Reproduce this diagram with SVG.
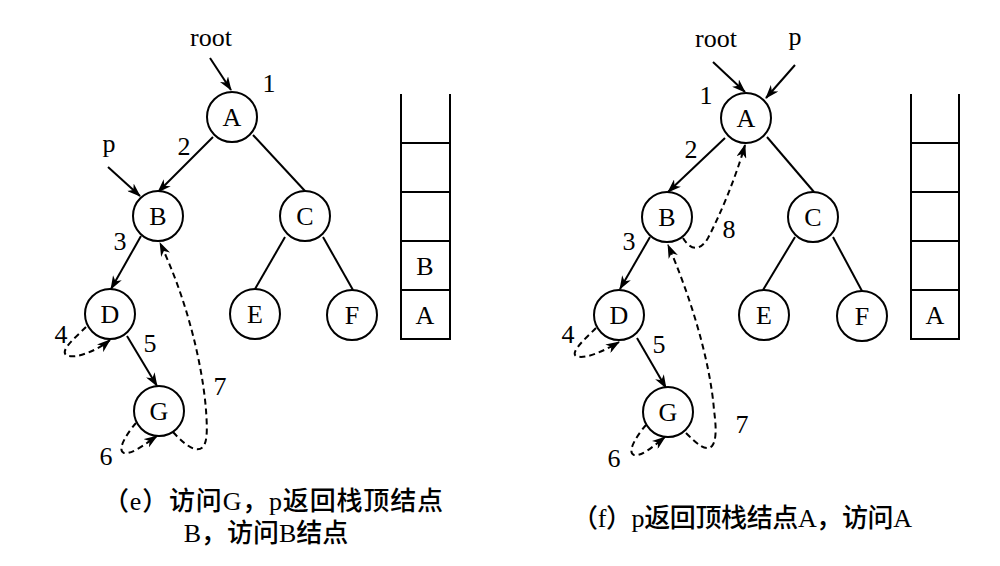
<svg xmlns="http://www.w3.org/2000/svg" width="1000" height="566" viewBox="0 0 1000 566">
<style>
.n{fill:#fff;stroke:#000;stroke-width:2}
.t{font-family:"Liberation Serif","DejaVu Serif","Noto Serif",serif;font-size:26px;fill:#000;text-anchor:middle}
.cap{font-family:"Liberation Serif","Noto Sans CJK SC",serif;font-size:26px;font-weight:500;fill:#000;text-anchor:middle}
.e{fill:none;stroke:#000;stroke-width:2}
.a{fill:none;stroke:#000;stroke-width:2;marker-end:url(#ah)}
.d{fill:none;stroke:#000;stroke-width:2;stroke-dasharray:6,4;marker-end:url(#ah)}
.s{fill:none;stroke:#000;stroke-width:2}
</style>
<defs>
<marker id="ah" viewBox="0 0 14 10" refX="13" refY="5" markerWidth="14" markerHeight="10" markerUnits="userSpaceOnUse" orient="auto">
<path d="M0,0 L14,5 L0,10 L4,5 z" fill="#000"/>
</marker>
</defs>
<rect width="1000" height="566" fill="#fff"/>

<g id="connectors">
<path class="a" d="M210 58 L231 90"/>
<path class="a" d="M108 167 L140 196"/>
<path class="a" d="M213 137 L158 192"/>
<path class="e" d="M253 135 L305 191"/>
<path class="a" d="M141 236 L111 289"/>
<path class="e" d="M285 237 L255 289"/>
<path class="e" d="M323 237 L353 290"/>
<path class="a" d="M127 336 L157 386"/>
<path class="d" d="M86 327 C76 337 60 350 66 355 C75 360 98 350 110 340"/>
<path class="d" d="M136 423 C128 432 116 450 124 453 C132 455 148 442 157 436"/>
<path class="d" d="M173 432 C184 444 196 454 203 447 C208 441 207 425 206 410 C202 360 185 295 160 243"/>
<path class="a" d="M713 62 L745 92"/>
<path class="a" d="M795 65 L766 98"/>
<path class="a" d="M725 138 L668 192"/>
<path class="e" d="M767 137 L814 192"/>
<path class="a" d="M650 237 L620 289"/>
<path class="e" d="M795 237 L763 290"/>
<path class="e" d="M833 237 L862 291"/>
<path class="a" d="M637 338 L666 388"/>
<path class="d" d="M683 238 C690 250 700 252 708 238 C720 215 735 180 745 145"/>
<path class="d" d="M596 328 C586 338 570 352 576 356 C585 360 606 350 619 342"/>
<path class="d" d="M646 425 C638 434 626 452 634 455 C642 457 656 444 665 437"/>
<path class="d" d="M686 433 C697 444 706 452 712 446 C717 440 716 425 714 410 C710 360 690 295 668 245"/>
</g>

<g id="left-labels">
<text class="t" x="211" y="46">root</text>
<text class="t" x="109" y="152">p</text>
<text class="t" x="269" y="92">1</text>
<text class="t" x="184" y="155">2</text>
<text class="t" x="120" y="250">3</text>
<text class="t" x="61" y="343">4</text>
<text class="t" x="150" y="352">5</text>
<text class="t" x="106" y="465">6</text>
<text class="t" x="220" y="395">7</text>
</g>

<g id="L-A"><circle class="n" cx="232" cy="117" r="25"/><text class="t" x="232" y="126">A</text></g>
<g id="L-B"><circle class="n" cx="158" cy="216" r="25"/><text class="t" x="158" y="225">B</text></g>
<g id="L-C"><circle class="n" cx="305" cy="216" r="25"/><text class="t" x="305" y="225">C</text></g>
<g id="L-D"><circle class="n" cx="110" cy="314" r="25"/><text class="t" x="110" y="323">D</text></g>
<g id="L-E"><circle class="n" cx="255" cy="314" r="25"/><text class="t" x="255" y="323">E</text></g>
<g id="L-F"><circle class="n" cx="352" cy="315" r="25"/><text class="t" x="352" y="324">F</text></g>
<g id="L-G"><circle class="n" cx="159" cy="411" r="25"/><text class="t" x="159" y="420">G</text></g>

<g id="L-stack">
<path class="s" d="M401 94 L401 339 L450 339 L450 94"/>
<line class="s" x1="401" y1="143" x2="450" y2="143"/>
<line class="s" x1="401" y1="192" x2="450" y2="192" stroke-width="1.2"/>
<line class="s" x1="401" y1="241" x2="450" y2="241"/>
<line class="s" x1="401" y1="290" x2="450" y2="290"/>
<text class="t" x="425" y="275">B</text>
<text class="t" x="425" y="324">A</text>
</g>

<g id="right-labels">
<text class="t" x="716" y="47">root</text>
<text class="t" x="795" y="45">p</text>
<text class="t" x="706" y="104">1</text>
<text class="t" x="691" y="158">2</text>
<text class="t" x="629" y="250">3</text>
<text class="t" x="729" y="238">8</text>
<text class="t" x="568" y="343">4</text>
<text class="t" x="659" y="353">5</text>
<text class="t" x="614" y="467">6</text>
<text class="t" x="742" y="433">7</text>
</g>

<g id="R-A"><circle class="n" cx="746" cy="118" r="25"/><text class="t" x="746" y="127">A</text></g>
<g id="R-B"><circle class="n" cx="667" cy="217" r="25"/><text class="t" x="667" y="226">B</text></g>
<g id="R-C"><circle class="n" cx="813" cy="217" r="25"/><text class="t" x="813" y="226">C</text></g>
<g id="R-D"><circle class="n" cx="619" cy="315" r="25"/><text class="t" x="619" y="324">D</text></g>
<g id="R-E"><circle class="n" cx="764" cy="315" r="25"/><text class="t" x="764" y="324">E</text></g>
<g id="R-F"><circle class="n" cx="862" cy="316" r="25"/><text class="t" x="862" y="325">F</text></g>
<g id="R-G"><circle class="n" cx="668" cy="412" r="25"/><text class="t" x="668" y="421">G</text></g>

<g id="R-stack">
<path class="s" d="M911 94 L911 339 L959 339 L959 94"/>
<line class="s" x1="911" y1="143" x2="959" y2="143"/>
<line class="s" x1="911" y1="192" x2="959" y2="192" stroke-width="1.2"/>
<line class="s" x1="911" y1="241" x2="959" y2="241"/>
<line class="s" x1="911" y1="290" x2="959" y2="290"/>
<text class="t" x="935" y="324">A</text>
</g>

<g id="captions">
<text class="cap" x="273" y="510" textLength="340" lengthAdjust="spacing">（e）访问G，p返回栈顶结点</text>
<text class="cap" x="266" y="542" font-size="27">B，访问B结点</text>
<text class="cap" x="742" y="527" textLength="340" lengthAdjust="spacing">（f）p返回顶栈结点A，访问A</text>
</g>
</svg>
